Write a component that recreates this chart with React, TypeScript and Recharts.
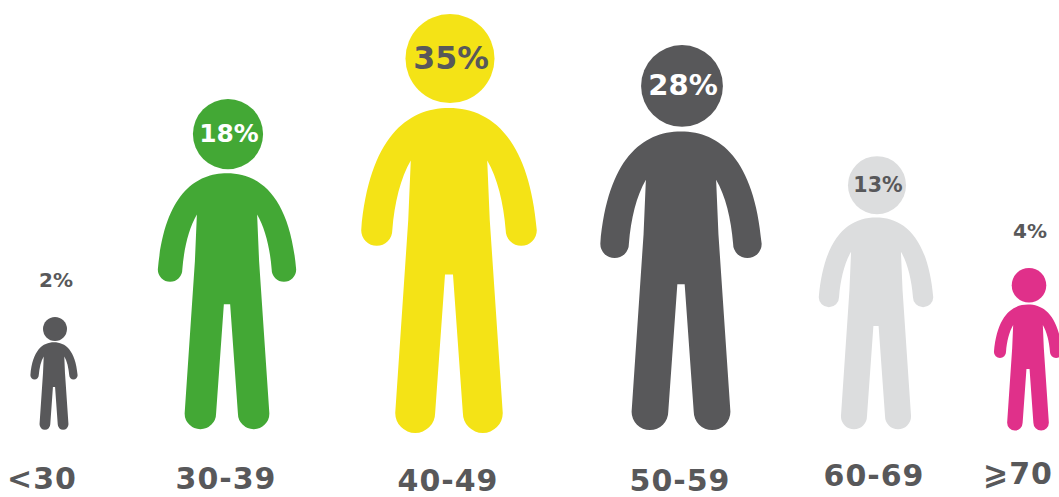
import React from 'react';
import { BarChart, Bar, XAxis, YAxis } from 'recharts';

const ageGroups = ['<30', '30-39', '40-49', '50-59', '60-69', '⩾70'];
const shares = [2, 18, 35, 28, 13, 4];
// height of each figure, on a scale where the tallest one is 100
const figureHeights = [26.9, 78.8, 100, 91.9, 65.2, 38.8];

// layout: where each figure stands on the x axis (axis is 0..1059)
const slots = [54, 227, 449, 681, 876, 1028];
const baselineNudge = [-1, -1, 3, 0, -1, 0];
const tickNudge = [
  [-12, 0],
  [-1, 0],
  [-1, 2],
  [-1, 2],
  [-2, -3],
  [-10, -5],
];
const colors = ['#58585a', '#43a835', '#f4e316', '#58585a', '#dcddde', '#e0308a'];
const labelColors = ['#58585a', '#ffffff', '#58585a', '#ffffff', '#58585a', '#58585a'];

const FONT = '"DejaVu Sans", sans-serif';

const data = ageGroups.map((group, i) => ({
  group,
  share: shares[i],
  figure: figureHeights[i],
  slot: slots[i],
}));

// silhouette for a figure 1 unit tall, x=0 is the middle, y=0 the top of the head
const BODY_PATH =
  'M0 .224 C.1 .224 .19 .295 .209 .515 A.037 .037 0 0 1 .135 .515 C.13 .45 .115 .39 .091 .349 ' +
  'L.097 .49 L.128 .95 A.0475 .0475 0 0 1 .033 .95 L.0095 .62 L-.0095 .62 L-.033 .95 ' +
  'A.0475 .0475 0 0 1 -.128 .95 L-.097 .49 L-.091 .349 C-.115 .39 -.13 .45 -.135 .515 ' +
  'A.037 .037 0 0 1 -.209 .515 C-.19 .295 -.1 .224 0 .224 Z';

const Person = (props: any) => {
  const { x, y, width, height, index, payload } = props;
  const cx = x + width / 2;
  const top = y + baselineNudge[index];
  const headR = height * 0.106;
  const headY = top + headR;
  const inside = headR > 25;
  const fontSize = inside ? headR * 0.71 : 20;
  return (
    <g>
      <circle cx={cx + 1} cy={headY} r={headR} fill={colors[index]} />
      <path d={BODY_PATH} fill={colors[index]} transform={`translate(${cx} ${top}) scale(${height})`} />
      <text
        x={cx + 2}
        y={inside ? headY - 0.5 : top - 37}
        textAnchor="middle"
        dominantBaseline="central"
        fontFamily={FONT}
        fontWeight="bold"
        fontSize={fontSize}
        fill={labelColors[index]}
      >
        {payload.share}%
      </text>
    </g>
  );
};

const AgeTick = (props: any) => {
  const { x, y, index } = props;
  const [dx, dy] = tickNudge[index];
  return (
    <text
      x={x + dx}
      y={y + dy}
      textAnchor="middle"
      dominantBaseline="central"
      fontFamily={FONT}
      fontWeight="bold"
      fontSize={30}
      letterSpacing={1}
      fill="#58585a"
    >
      {ageGroups[index]}
    </text>
  );
};

export default function App() {
  return (
    <div style={{ position: 'absolute', left: 0, top: 0, width: 1059, height: 497, overflow: 'hidden', background: '#fff' }}>
      <BarChart width={1059} height={497} data={data} margin={{ top: 11, right: 0, bottom: 0, left: 0 }}>
        <XAxis
          dataKey="slot"
          type="number"
          domain={[0, 1059]}
          ticks={slots}
          interval={0}
          height={66}
          axisLine={false}
          tickLine={false}
          tickMargin={41}
          tick={<AgeTick />}
        />
        <YAxis hide domain={[0, 100]} />
        <Bar dataKey="figure" barSize={10} shape={<Person />} isAnimationActive={false} />
      </BarChart>
    </div>
  );
}
